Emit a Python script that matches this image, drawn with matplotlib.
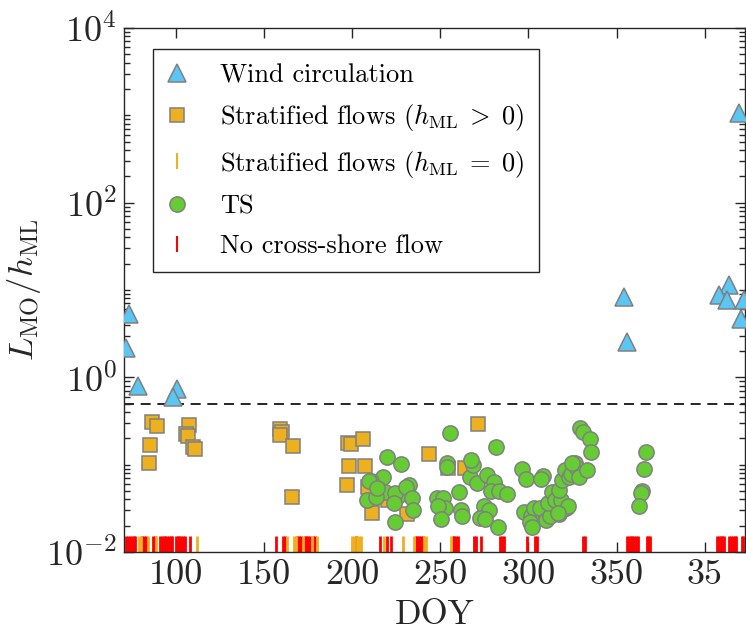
import numpy as np
import matplotlib
matplotlib.use('Agg')
from matplotlib import pyplot as plt
from matplotlib.ticker import FixedLocator, NullFormatter
from matplotlib.lines import Line2D

# шрифты как в LaTeX (Computer Modern)
plt.rcParams['font.family'] = 'serif'
plt.rcParams['font.serif'] = ['cmr10']
plt.rcParams['mathtext.fontset'] = 'cm'
plt.rcParams['axes.formatter.use_mathtext'] = True

# Wind circulation (треугольники)
wind_doy = [73.2, 71.8, 78.8, 100.8, 98.3, 419.3, 354.5, 355.7, 413.8, 408.1, 412.9, 422.3, 420.5]
wind_val = [5.3, 2.16, 0.80, 0.73, 0.60, 1050, 8.3, 2.55, 11.4, 8.7, 7.6, 7.6, 4.7]

# Stratified flows (h_ML > 0), квадраты
strat_doy = [86.5, 89.4, 85.4, 84.5, 107.4, 105.9, 106.8, 109.7, 110.6, 158.9, 160.4, 159.3,
             166.5, 165.7, 197.9, 199.2, 206.4, 198.5, 207.4, 197.0, 209.1, 211.5, 231.4,
             220.5, 243.6, 254.5, 264.0, 271.2]
strat_val = [0.305, 0.277, 0.168, 0.105, 0.286, 0.224, 0.212, 0.158, 0.150, 0.253, 0.238, 0.218,
             0.163, 0.043, 0.178, 0.173, 0.196, 0.097, 0.097, 0.058, 0.055, 0.028, 0.027,
             0.039, 0.132, 0.091, 0.091, 0.29]

# TS, кружки
ts_doy = [255.5, 219.5, 227.7, 253.6, 217.6, 210.6, 232.1, 214.4, 218.6, 208.7, 213.8, 226.1,
          224.3, 230.5, 233.7, 223.9, 234.7, 224.6, 247.9, 251.7, 252.7, 248.5, 250.4, 260.6,
          261.8, 262.5, 266.9, 268.8, 267.4, 270.8, 281.7, 276.5, 280.7, 278.8, 283.5, 287.9,
          274.6, 277.5, 272.3, 275.6, 282.6, 296.4, 298.7, 308.4, 307.4, 297.7, 301.5, 303.4,
          306.8, 301.1, 302.1, 309.7, 312.1, 311.0, 313.5, 315.3, 317.2, 321.6, 318.2, 317.2,
          319.2, 320.6, 322.8, 323.9, 326.7, 327.7, 328.6, 333.4, 329.5, 330.9, 334.7, 335.6,
          366.5, 365.5, 364.6, 363.7, 362.7, 209.3, 214.0, 253.8, 322.3, 316.9, 324.8]
ts_val = [0.228, 0.123, 0.101, 0.105, 0.073, 0.065, 0.059, 0.052, 0.048, 0.039, 0.043, 0.044,
          0.047, 0.055, 0.042, 0.036, 0.030, 0.022, 0.042, 0.041, 0.032, 0.034, 0.024, 0.048,
          0.030, 0.026, 0.073, 0.099, 0.113, 0.062, 0.160, 0.076, 0.064, 0.050, 0.050, 0.046,
          0.034, 0.030, 0.0243, 0.0237, 0.0195, 0.088, 0.069, 0.074, 0.069, 0.029, 0.026, 0.032,
          0.0316, 0.022, 0.0195, 0.023, 0.026, 0.036, 0.049, 0.039, 0.027, 0.032, 0.039, 0.051,
          0.066, 0.087, 0.073, 0.079, 0.104, 0.091, 0.073, 0.087, 0.26, 0.238, 0.195, 0.141,
          0.141, 0.088, 0.050, 0.047, 0.034, 0.065, 0.054, 0.094, 0.0338, 0.0277, 0.104]

# Stratified flows (h_ML = 0) - оранжевые штрихи внизу
strat0_doy = [79, 80, 84, 89, 112, 163, 167, 168, 172, 177, 180, 200, 201, 203, 204, 205,
              218, 229, 235, 241, 242, 256]
# No cross-shore flow - красные штрихи
nocross_doy = [72, 73, 74, 75, 76, 77, 81, 82, 83, 87, 88, 91, 92, 93, 94, 95, 96, 97, 98,
               100, 101, 102, 103, 104, 105, 108, 157, 161, 162, 169, 170, 171, 173, 174, 175,
               176, 178, 179, 202, 216, 220, 222, 236, 237, 238, 239, 240, 257, 258, 259, 260,
               269, 270, 273, 284, 285, 286, 299, 304, 305, 331, 332, 356, 357, 358, 359, 360,
               361, 362, 367, 368, 369, 407, 408, 409, 410, 411, 414, 415, 416, 417, 418, 421, 422]

x_ticks = [100, 150, 200, 250, 300, 350, 400]
x_ticklabels = ['100', '150', '200', '250', '300', '350', '35']
threshold = 0.5
rug_level = 0.0125

c_blue = '#5BC6F4'
c_orange = '#EDB120'
c_green = '#66CC33'
c_edge = '#808080'
c_axis = '#262626'

fig = plt.figure(figsize=(7.46, 6.33), dpi=100)
ax = fig.add_axes([0.166, 0.128, 0.833, 0.828])

ax.plot(nocross_doy, [rug_level] * len(nocross_doy), ls='none', marker='|', ms=11.5,
        mew=2.0, color='red', zorder=2)
ax.plot(strat0_doy, [rug_level] * len(strat0_doy), ls='none', marker='|', ms=11.5,
        mew=2.0, color=c_orange, zorder=2)

ax.axhline(threshold, color='k', lw=1.2, ls=(0, (6, 4)), zorder=1)

ax.plot(wind_doy, wind_val, ls='none', marker='^', ms=13, mfc=c_blue, mec=c_edge,
        mew=1.1, zorder=3)
ax.plot(strat_doy, strat_val, ls='none', marker='s', ms=10, mfc=c_orange, mec=c_edge,
        mew=1.1, zorder=3)
ax.plot(ts_doy, ts_val, ls='none', marker='o', ms=11, mfc=c_green, mec=c_edge,
        mew=1.1, zorder=4)

ax.set_yscale('log')
ax.set_ylim(1e-2, 1e4)
ax.set_xlim(70.5, 423)
ax.yaxis.set_major_locator(FixedLocator([1e-2, 1e0, 1e2, 1e4]))
minor = [m * 10.0 ** e for e in range(-2, 4) for m in range(1, 10) if not (m == 1 and e % 2 == 0)]
ax.yaxis.set_minor_locator(FixedLocator(minor))
ax.yaxis.set_minor_formatter(NullFormatter())
ax.set_xticks(x_ticks)
ax.set_xticklabels(x_ticklabels)

ax.tick_params(which='both', direction='in', top=True, right=True, colors=c_axis,
               labelsize=26, width=1.0)
ax.tick_params(which='major', length=7, pad=5)
ax.tick_params(which='minor', length=4)
for s in ax.spines.values():
    s.set_color(c_axis)
    s.set_linewidth(1.0)

ax.set_xlabel('DOY', fontsize=25, color=c_axis, labelpad=6)
ax.set_ylabel(r'$L_{\rm MO}/h_{\rm ML}$', fontsize=25, color=c_axis, labelpad=2)

handles = [
    Line2D([], [], ls='none', marker='^', ms=13, mfc=c_blue, mec=c_edge, mew=1.1),
    Line2D([], [], ls='none', marker='s', ms=10, mfc=c_orange, mec=c_edge, mew=1.1),
    Line2D([], [], ls='none', marker='|', ms=11, mew=1.5, color=c_orange),
    Line2D([], [], ls='none', marker='o', ms=11, mfc=c_green, mec=c_edge, mew=1.1),
    Line2D([], [], ls='none', marker='|', ms=11, mew=1.5, color='red'),
]
labels = ['Wind circulation', r'Stratified flows ($h_{\rm ML}\;>\;0$)',
          r'Stratified flows ($h_{\rm ML}\;=\;0$)', 'TS', 'No cross-shore flow']
leg = ax.legend(handles, labels, loc='upper left', bbox_to_anchor=(0.047, 0.96),
                borderaxespad=0, fontsize=19, fancybox=False, edgecolor=c_axis,
                framealpha=1, handlelength=0.7, handletextpad=1.3, labelspacing=0.58,
                borderpad=0.55)
leg.get_frame().set_linewidth(1.0)

fig.savefig('out.png', dpi=100)
